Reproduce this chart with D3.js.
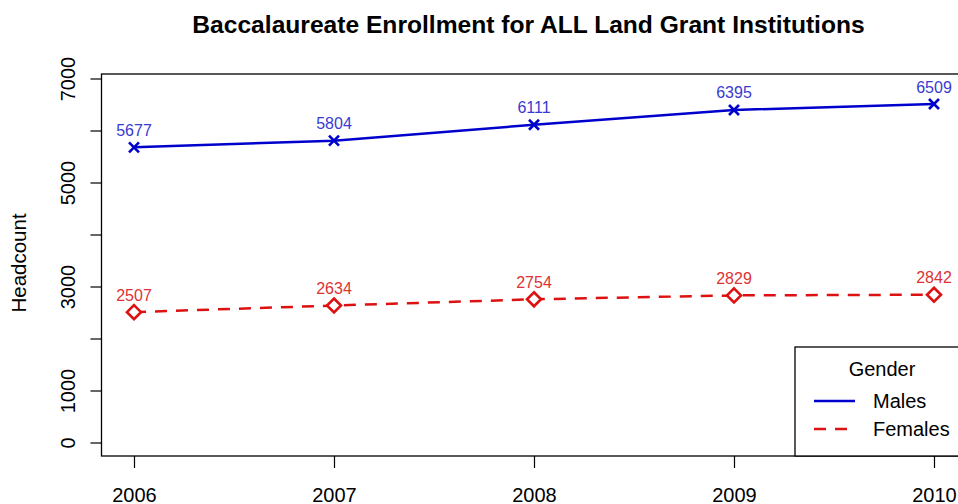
<!DOCTYPE html>
<html><head><meta charset="utf-8">
<script src="https://cdn.jsdelivr.net/npm/d3@7/dist/d3.min.js"></script>
<style>body{margin:0;background:#fff;}svg{display:block;font-family:"Liberation Sans",Arial,sans-serif;}</style>
</head><body>
<svg id="c" width="958" height="504"></svg>
<script>
const years = [2006, 2007, 2008, 2009, 2010];
const males = [5677, 5804, 6111, 6395, 6509];
const females = [2507, 2634, 2754, 2829, 2842];
const yTicks = [0, 1000, 2000, 3000, 4000, 5000, 6000, 7000];
const yTickLabels = ["0", "1000", "", "3000", "", "5000", "", "7000"];
const seriesNames = ["Males", "Females"];

const svg = d3.select("#c");
const L = 101.5, R = 964, T = 74, B = 456;
const x = d3.scaleLinear().domain([2006, 2010]).range([134, 934]);
const y = d3.scaleLinear().domain([0, 7000]).range([442.5, 78.5]);

// title
svg.append("text").attr("x", 528.5).attr("y", 33).attr("text-anchor", "middle")
  .attr("font-weight", "bold").attr("font-size", 24.6).text("Baccalaureate Enrollment for ALL Land Grant Institutions");

// box
svg.append("rect").attr("x", L).attr("y", T).attr("width", R - L).attr("height", B - T)
  .attr("fill", "none").attr("stroke", "#000").attr("stroke-width", 1.3);

// y axis
const ya = svg.append("g").attr("transform", `translate(${L},0)`)
  .call(d3.axisLeft(y).tickValues(yTicks).tickSize(11).tickPadding(0).tickFormat((d, i) => yTickLabels[i]));
ya.select(".domain").remove();
ya.selectAll("line").attr("stroke", "#000").attr("stroke-width", 1.2);
ya.selectAll(".tick text").attr("font-size", 20).attr("fill", "#000").attr("font-family", null)
  .attr("text-anchor", "middle").attr("x", 0).attr("y", -34).attr("dy", "0.35em")
  .attr("transform", "rotate(-90)");

// x axis
const xa = svg.append("g").attr("transform", `translate(0,${B})`)
  .call(d3.axisBottom(x).tickValues(years).tickSize(12).tickPadding(20).tickFormat(d3.format("d")));
xa.select(".domain").remove();
xa.selectAll("line").attr("stroke", "#000").attr("stroke-width", 1.2);
xa.selectAll("text").attr("font-size", 20).attr("fill", "#000").attr("font-family", null);

// y label
svg.append("text").attr("transform", `translate(26,263) rotate(-90)`).attr("text-anchor", "middle")
  .attr("font-size", 20.5).text("Headcount");

const line = d3.line().x((d, i) => x(years[i])).y(d => y(d));

// males
svg.append("path").datum(males).attr("d", line).attr("fill", "none").attr("stroke", "#0000cd").attr("stroke-width", 2.5);
svg.append("g").selectAll("path").data(males).join("path")
  .attr("transform", (d, i) => `translate(${x(years[i])},${y(d)})`)
  .attr("d", "M-5,-5L5,5M-5,5L5,-5").attr("stroke", "#0000cd").attr("stroke-width", 2.6).attr("fill", "none");
svg.append("g").selectAll("text").data(males).join("text")
  .attr("x", (d, i) => x(years[i])).attr("y", d => y(d) - 11.5).attr("text-anchor", "middle")
  .attr("font-size", 16).attr("fill", "#3a3ad0").text(d => d);

// females
svg.append("path").datum(females).attr("d", line).attr("fill", "none").attr("stroke", "#dd1111")
  .attr("stroke-width", 2.5).attr("stroke-dasharray", "12,9");
svg.append("g").selectAll("path").data(females).join("path")
  .attr("transform", (d, i) => `translate(${x(years[i])},${y(d)})`)
  .attr("d", "M0,-7L7,0L0,7L-7,0Z").attr("stroke", "#dd1111").attr("stroke-width", 2.6).attr("fill", "#fff");
svg.append("g").selectAll("text").data(females).join("text")
  .attr("x", (d, i) => x(years[i])).attr("y", d => y(d) - 11.5).attr("text-anchor", "middle")
  .attr("font-size", 16).attr("fill", "#dd3333").text(d => d);

// legend
const lg = svg.append("g");
lg.append("rect").attr("x", 795).attr("y", 347).attr("width", 200).attr("height", B - 347)
  .attr("fill", "#fff").attr("stroke", "#000").attr("stroke-width", 1.3);
lg.append("text").attr("x", 882).attr("y", 376).attr("text-anchor", "middle").attr("font-size", 20).text("Gender");
const lcol = ["#0000cd", "#dd1111"], ldash = [null, "12,9"], ly = [401, 429];
seriesNames.forEach((n, i) => {
  lg.append("line").attr("x1", 814).attr("x2", 855).attr("y1", ly[i]).attr("y2", ly[i])
    .attr("stroke", lcol[i]).attr("stroke-width", 2.5).attr("stroke-dasharray", ldash[i]);
  lg.append("text").attr("x", 873).attr("y", ly[i] + 7).attr("font-size", 20).text(n);
});
</script>
</body></html>
